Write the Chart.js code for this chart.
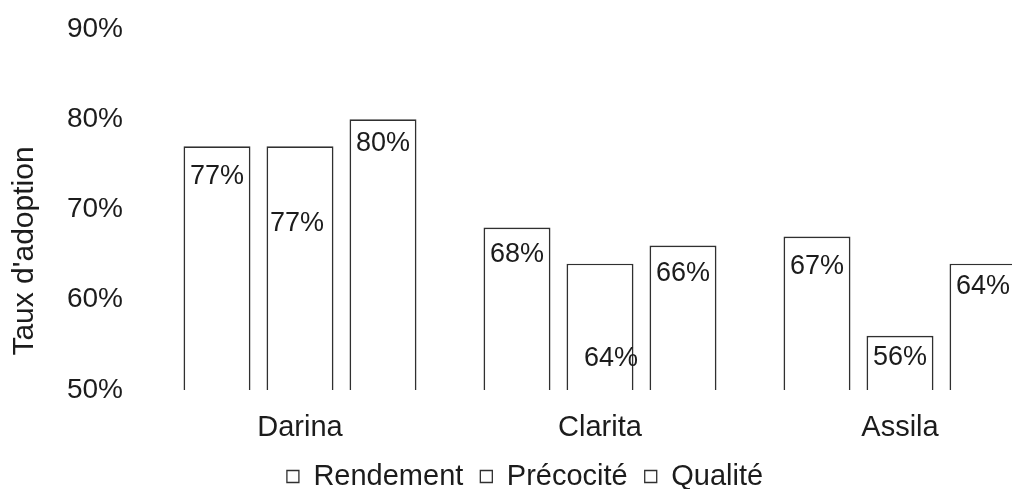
<!DOCTYPE html>
<html>
<head>
<meta charset="utf-8">
<script src="https://cdn.jsdelivr.net/npm/chart.js@4/dist/chart.umd.min.js"></script>
<style>
  html, body { margin: 0; padding: 0; background: #fff; overflow: hidden; }
  #wrap { position: relative; width: 1050px; height: 501px; }
</style>
</head>
<body>
<div id="wrap"><canvas id="c"></canvas></div>
<script>
// Varieties and adoption rates (%) per criterion
const categories = ['Darina', 'Clarita', 'Assila'];
const rendement = [77, 68, 67];
const precocite = [77, 64, 56];
const qualite = [80, 66, 64];
const seriesNames = ['Rendement', 'Précocité', 'Qualité'];
const yTickValues = [50, 60, 70, 80, 90];
const yTitle = "Taux d'adoption";

const FONT = '"Liberation Sans", Arial, sans-serif';
const INK = '#1c1c1c';
const EDGE = '#303030';

// Label placement inside each bar: [dx, dy] from the bar's top centre
const labelShift = [
  [[0, 30], [0, 27], [0, 30]],
  [[-3, 77], [11, 95], [0, 22]],
  [[0, 24], [0, 28], [0, 23]]
];

const barLabels = {
  id: 'barLabels',
  afterDatasetsDraw(chart) {
    const ctx = chart.ctx;
    ctx.save();
    ctx.font = '27px ' + FONT;
    ctx.fillStyle = INK;
    ctx.textAlign = 'center';
    ctx.textBaseline = 'middle';
    chart.data.datasets.forEach((ds, di) => {
      const meta = chart.getDatasetMeta(di);
      meta.data.forEach((el, i) => {
        const s = labelShift[di][i];
        ctx.fillText(ds.data[i] + '%', el.x + s[0], el.y + s[1]);
      });
    });
    ctx.restore();
  }
};

const axisTitle = {
  id: 'axisTitle',
  afterDraw(chart) {
    const ctx = chart.ctx;
    ctx.save();
    ctx.translate(25, 251);
    ctx.rotate(-Math.PI / 2);
    ctx.font = '30px ' + FONT;
    ctx.fillStyle = INK;
    ctx.textAlign = 'center';
    ctx.textBaseline = 'middle';
    ctx.fillText(yTitle, 0, 0);
    ctx.restore();
  }
};

const barStyle = {
  backgroundColor: '#ffffff',
  borderColor: EDGE,
  borderWidth: 1.7,
  borderSkipped: 'bottom',
  categoryPercentage: 0.83,
  barPercentage: 0.807
};

new Chart(document.getElementById('c'), {
  type: 'bar',
  data: {
    labels: categories,
    datasets: [
      Object.assign({ label: seriesNames[0], data: rendement }, barStyle),
      Object.assign({ label: seriesNames[1], data: precocite }, barStyle),
      Object.assign({ label: seriesNames[2], data: qualite }, barStyle)
    ]
  },
  options: {
    responsive: true,
    maintainAspectRatio: false,
    animation: false,
    devicePixelRatio: 1,
    layout: { padding: { top: 29, right: 0, bottom: 0, left: 0 } },
    plugins: {
      tooltip: { enabled: false },
      legend: {
        position: 'bottom',
        labels: {
          boxWidth: 12,
          boxHeight: 12,
          padding: 17,
          color: INK,
          font: { family: FONT, size: 29 },
          generateLabels(chart) {
            return chart.data.datasets.map((ds, i) => ({
              text: ds.label,
              fillStyle: '#ffffff',
              strokeStyle: EDGE,
              lineWidth: 1.3,
              fontColor: INK,
              datasetIndex: i
            }));
          }
        }
      }
    },
    scales: {
      x: {
        grid: { display: false, drawTicks: false },
        border: { display: false },
        ticks: { color: INK, font: { family: FONT, size: 29 }, padding: 21 },
        afterFit(scale) { scale.height = 55; }
      },
      y: {
        min: yTickValues[0],
        max: yTickValues[yTickValues.length - 1],
        afterBuildTicks(scale) { scale.ticks = yTickValues.map(v => ({ value: v })); },
        grid: { display: false, drawTicks: false },
        border: { display: false },
        ticks: {
          color: INK,
          font: { family: FONT, size: 28 },
          padding: 27,
          callback: v => v + '%'
        },
        afterFit(scale) {
          scale.width = 150;
          scale.paddingTop = 0;
          scale.paddingBottom = 0;
        }
      }
    }
  },
  plugins: [barLabels, axisTitle]
});
</script>
</body>
</html>
